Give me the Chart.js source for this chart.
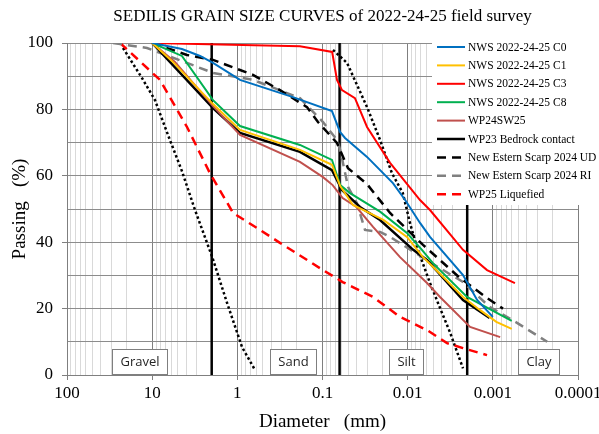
<!DOCTYPE html>
<html>
<head>
<meta charset="utf-8">
<script src="https://cdn.jsdelivr.net/npm/chart.js@4"></script>
<style>
body { margin: 0; background: #fff; }
#wrap { width: 599px; height: 434px; position: relative; }
</style>
</head>
<body>
<div id="wrap"><canvas id="grainChart"></canvas></div>
<script>
// diameters in mm, passing in %
const c0Diam = [10, 4.47, 2.74, 1.93, 0.93, 0.222, 0.0774, 0.0623, 0.0544, 0.030, 0.0149, 0.0107, 0.00716, 0.00547, 0.00224, 0.00153, 0.001];
const c0Pass = [100, 98.2, 96.1, 94, 88.9, 83.7, 79.5, 73.2, 71.4, 65.7, 57.8, 52.7, 45.8, 41.6, 30.1, 22.6, 17.5];

const c1Diam = [10, 5.87, 1.93, 0.93, 0.184, 0.0774, 0.062, 0.0438, 0.0193, 0.0102, 0.0066, 0.00417, 0.00224, 0.00142, 0.00091, 0.0006];
const c1Pass = [100, 94.6, 81.6, 73.8, 67.8, 63.3, 56.9, 51.2, 46.7, 41.6, 35.5, 30.5, 23.5, 19.6, 16, 13.9];

const c3Diam = [10, 0.184, 0.077, 0.0676, 0.059, 0.0416, 0.030, 0.0161, 0.00716, 0.00547, 0.00224, 0.00117, 0.00055];
const c3Pass = [100, 99, 97.3, 88.9, 85.8, 83.4, 74.7, 63.9, 52.7, 49.7, 37.7, 31.6, 27.7];

const c8Diam = [10, 4.47, 1.93, 0.93, 0.184, 0.0774, 0.062, 0.0475, 0.0211, 0.0102, 0.0068, 0.00505, 0.00201, 0.0006];
const c8Pass = [100, 96.1, 82.8, 75, 69.3, 64.8, 57.2, 54.8, 49.2, 42.8, 37.7, 33.7, 23.5, 16.3];

const wp24Diam = [10, 5.4, 1.93, 0.93, 0.184, 0.0986, 0.076, 0.058, 0.04, 0.0255, 0.0123, 0.00593, 0.00417, 0.00185, 0.00082];
const wp24Pass = [100, 94.3, 81, 72.3, 64.2, 59.6, 57.2, 53.3, 50.6, 44.6, 35.5, 27.7, 23.5, 14.5, 11.4];

const wp23Diam = [10, 1.93, 0.93, 0.184, 0.0774, 0.059, 0.0363, 0.0211, 0.0086, 0.0059, 0.00224, 0.00109];
const wp23Pass = [100, 80.4, 72.9, 67.2, 61.7, 55.7, 50.6, 46.7, 37.7, 34.6, 22.6, 17.2];

const udDiam = [10, 3.9, 1.93, 0.655, 0.316, 0.152, 0.113, 0.0676, 0.0502, 0.030, 0.0161, 0.0066, 0.0025, 0.00117, 0.00076];
const udPass = [100, 96.4, 94.9, 90.4, 85.8, 80.7, 76.2, 69.9, 62.3, 57.5, 48.8, 39.2, 29.5, 23.2, 20];

const riDiam = [28.8, 11.5, 3.9, 1.93, 0.655, 0.184, 0.0986, 0.0676, 0.062, 0.05, 0.0395, 0.0317, 0.0211, 0.0161, 0.00547, 0.00224, 0.00109, 0.00052, 0.00023];
const riPass = [100, 98.5, 94, 91, 88.9, 83.4, 76.2, 70.8, 67.8, 56.6, 51.8, 43.7, 43.1, 41.6, 34, 28, 20.5, 15.7, 10];

const wp25Diam = [23.8, 8.1, 3.9, 2.1, 1.12, 0.542, 0.316, 0.0986, 0.058, 0.044, 0.0255, 0.0123, 0.0059, 0.00345, 0.00224, 0.00117];
const wp25Pass = [100, 88.9, 74.7, 60.8, 48.8, 43.7, 39.8, 31.6, 28, 26.5, 23.5, 17.5, 13.5, 9.6, 8.1, 6];

// envelope curves (dotted, no legend)
const envCoarseDiam = [22, 13.2, 9.27, 6.52, 4.47, 3.14, 1.97, 1.32, 0.88, 0.62];
const envCoarsePass = [98.5, 89.5, 82.8, 72.3, 61.4, 49.7, 35.5, 21.7, 8.4, 1.5];
const envFineDiam = [0.0753, 0.0515, 0.030, 0.0211, 0.0153, 0.0114, 0.0094, 0.0078, 0.00547, 0.00395, 0.0032, 0.00224];
const envFinePass = [97.9, 94, 80.7, 70.8, 60.8, 54.8, 45.8, 38.6, 27.7, 18.7, 13, 2];

// gravel/sand, sand/silt, silt/clay limits
const limitDiam = [2, 0.063, 0.002];
const zoneNames = ['Gravel', 'Sand', 'Silt', 'Clay'];
const zoneCenters = [13.9, 0.219, 0.0103, 0.000287];

const xTickValues = [100, 10, 1, 0.1, 0.01, 0.001, 0.0001];
const xTickLabels = ['100', '10', '1', '0.1', '0.01', '0.001', '0.0001'];

function toPoints(diams, pass) {
    return diams.map((d, i) => ({x: d, y: pass[i]}));
}

function lineSet(label, diams, pass, color, dash, width, inLegend) {
    return {
        label: label,
        data: toPoints(diams, pass),
        borderColor: color,
        backgroundColor: color,
        borderWidth: width,
        borderDash: dash,
        pointRadius: 0,
        tension: 0,
        inLegend: inLegend
    };
}

function isDecade(v) {
    const l = Math.log10(v);
    return Math.abs(l - Math.round(l)) < 1e-6;
}

const datasets = [
    lineSet('NWS 2022-24-25 C0', c0Diam, c0Pass, '#0070C0', [], 2, true),
    lineSet('NWS 2022-24-25 C1', c1Diam, c1Pass, '#FFC000', [], 2, true),
    lineSet('NWS 2022-24-25 C3', c3Diam, c3Pass, '#FF0000', [], 2, true),
    lineSet('NWS 2022-24-25 C8', c8Diam, c8Pass, '#00B050', [], 2, true),
    lineSet('WP24SW25', wp24Diam, wp24Pass, '#C0504D', [], 2, true),
    lineSet('WP23 Bedrock contact', wp23Diam, wp23Pass, '#000000', [], 2.5, true),
    lineSet('New Estern Scarp 2024 UD', udDiam, udPass, '#000000', [9, 6], 2.5, true),
    lineSet('New Estern Scarp 2024 RI', riDiam, riPass, '#808080', [9, 6], 2.5, true),
    lineSet('WP25 Liquefied', wp25Diam, wp25Pass, '#FF0000', [9, 6], 2.5, true),
    lineSet('', envCoarseDiam, envCoarsePass, '#000000', [2.5, 2.5], 2.5, false),
    lineSet('', envFineDiam, envFinePass, '#000000', [2.5, 2.5], 2.5, false)
];
limitDiam.forEach(d => {
    datasets.push(lineSet('', [d, d], [0, 100], '#000000', [], 2.5, false));
});

const titlePlugin = {
    id: 'centerTitle',
    afterDraw(chart) {
        const ctx = chart.ctx;
        const a = chart.chartArea;
        ctx.save();
        ctx.font = '17px "Liberation Serif"';
        ctx.fillStyle = '#000';
        ctx.textAlign = 'center';
        ctx.textBaseline = 'middle';
        ctx.fillText('SEDILIS GRAIN SIZE CURVES of 2022-24-25 field survey', (a.left + a.right) / 2, 17);
        ctx.restore();
    }
};

const zonePlugin = {
    id: 'zoneBoxes',
    beforeDatasetsDraw(chart) {
        const ctx = chart.ctx;
        const xs = chart.scales.x;
        const bottom = chart.chartArea.bottom;
        ctx.save();
        ctx.font = '13px "Open Sans"';
        ctx.textAlign = 'center';
        ctx.textBaseline = 'middle';
        zoneNames.forEach((name, i) => {
            const cx = xs.getPixelForValue(zoneCenters[i]);
            const w = ctx.measureText(name).width + 16;
            ctx.fillStyle = '#fff';
            ctx.fillRect(cx - w / 2, bottom - 26, w, 25);
            ctx.strokeStyle = '#7f7f7f';
            ctx.lineWidth = 1;
            ctx.strokeRect(Math.round(cx - w / 2) + 0.5, bottom - 25.5, Math.round(w), 25);
            ctx.fillStyle = '#262626';
            ctx.fillText(name, cx, bottom - 13);
        });
        ctx.restore();
    }
};

const legendPlugin = {
    id: 'boxLegend',
    afterDatasetsDraw(chart) {
        const ctx = chart.ctx;
        const items = chart.data.datasets.filter(ds => ds.inLegend);
        ctx.save();
        ctx.fillStyle = '#fff';
        ctx.fillRect(432, 37, 167, 168);
        ctx.font = '11.5px "Liberation Serif"';
        ctx.textBaseline = 'middle';
        items.forEach((ds, i) => {
            const y = 47 + i * 18.4;
            ctx.strokeStyle = ds.borderColor;
            ctx.lineWidth = ds.borderWidth;
            ctx.setLineDash(ds.borderDash);
            ctx.beginPath();
            ctx.moveTo(437, y);
            ctx.lineTo(465, y);
            ctx.stroke();
            ctx.setLineDash([]);
            ctx.fillStyle = '#000';
            ctx.fillText(ds.label, 468, y + 0.5);
        });
        ctx.restore();
    }
};

const config = {
    type: 'line',
    data: {datasets: datasets},
    options: {
        responsive: true,
        maintainAspectRatio: false,
        animation: false,
        layout: {padding: {top: 43, right: 21, left: 0, bottom: 0}},
        plugins: {
            legend: {display: false},
            tooltip: {enabled: false}
        },
        scales: {
            x: {
                type: 'logarithmic',
                reverse: true,
                min: 0.0001,
                max: 100,
                afterBuildTicks: (scale) => {
                    const ticks = [];
                    for (let e = -4; e <= 2; e++) {
                        for (let m = 1; m <= 9; m++) {
                            const v = m * Math.pow(10, e);
                            if (v <= 100.0001) ticks.push({value: v});
                        }
                    }
                    scale.ticks = ticks;
                },
                afterFit: (scale) => { scale.height = 59; },
                ticks: {
                    autoSkip: false,
                    maxRotation: 0,
                    padding: 3,
                    color: '#000',
                    font: {family: 'Liberation Serif', size: 17},
                    callback: (v) => {
                        if (!isDecade(v)) return '';
                        const idx = xTickValues.findIndex(t => Math.abs(Math.log10(t) - Math.log10(v)) < 1e-6);
                        return idx >= 0 ? xTickLabels[idx] : '';
                    }
                },
                grid: {
                    color: (c) => (c.tick && isDecade(c.tick.value)) ? '#7f7f7f' : '#d9d9d9',
                    tickColor: (c) => (c.tick && isDecade(c.tick.value)) ? '#7f7f7f' : 'rgba(0,0,0,0)',
                    tickLength: 5
                },
                border: {color: '#7f7f7f'},
                title: {
                    display: true,
                    text: 'Diameter   (mm)',
                    color: '#000',
                    font: {family: 'Liberation Serif', size: 19},
                    padding: {top: 0, bottom: 1}
                }
            },
            y: {
                min: 0,
                max: 100,
                afterFit: (scale) => { scale.width = 67; },
                ticks: {
                    stepSize: 10,
                    padding: 9,
                    color: '#000',
                    font: {family: 'Liberation Serif', size: 17},
                    callback: (v) => (v % 20 === 0 ? v : '')
                },
                grid: {
                    color: '#8c8c8c',
                    tickColor: (c) => (c.tick && c.tick.value % 20 === 0) ? '#7f7f7f' : 'rgba(0,0,0,0)',
                    tickLength: 5
                },
                border: {color: '#7f7f7f'},
                title: {
                    display: true,
                    text: 'Passing   (%)',
                    color: '#000',
                    font: {family: 'Liberation Serif', size: 19},
                    padding: {top: 9, bottom: 0}
                }
            }
        }
    },
    plugins: [zonePlugin, legendPlugin, titlePlugin]
};

const myChart = new Chart(document.getElementById('grainChart'), config);
</script>
</body>
</html>
